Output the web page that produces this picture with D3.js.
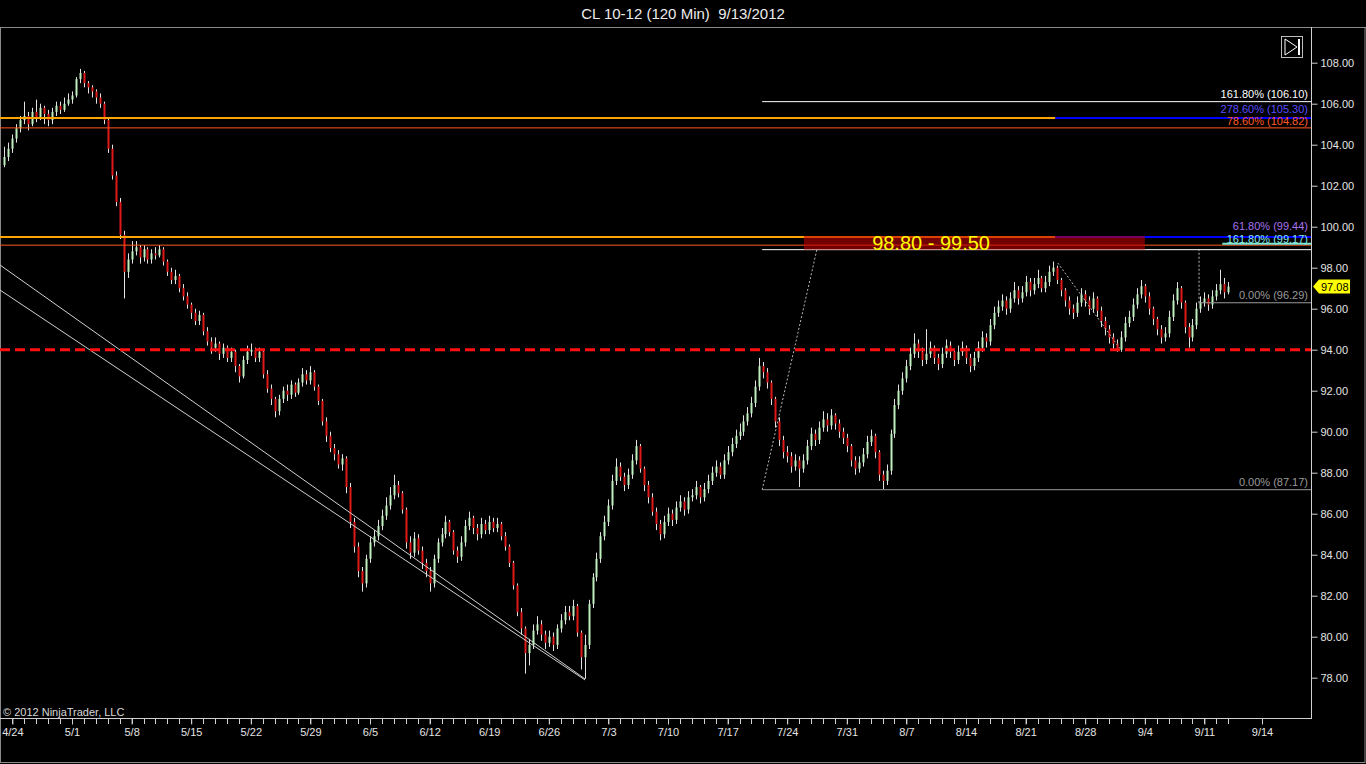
<!DOCTYPE html>
<html><head><meta charset="utf-8">
<script src="https://cdn.jsdelivr.net/npm/d3@7"></script>
<style>html,body{margin:0;padding:0;background:#000;overflow:hidden}text{font-family:"Liberation Sans",Arial,sans-serif}</style>
</head><body>
<svg id="c" width="1366" height="764"></svg>
<script>
// ---------------- DATA ----------------
const title = "CL 10-12 (120 Min)  9/13/2012";
const copyright = "\u00A9 2012 NinjaTrader, LLC";
const firstOpen = 103.0;
// 120-min bars, 3 per trading day, first bar at day -2/3 (day 0 = 4/24)
const closes = [
103.4,103.8,
104.3,104.8,105.2, 105.4,105.0,105.6, 105.3,105.8,105.5, 105.2,105.6,105.9, 105.7,106.0,106.2,
106.4,107.2,107.5, 107.0,106.8,106.6, 106.3,106.0,105.2, 103.8,102.5,101.2, 99.6,97.8,98.4,
98.8,99.0,98.5, 98.9,98.4,98.7, 98.6,98.9,98.3, 97.8,97.4,97.6, 97.0,96.6,96.2,
95.8,95.4,95.7, 94.9,94.4,94.1, 94.3,93.8,94.1, 93.6,93.9,93.2, 92.7,93.5,93.9,
94.0,93.6,93.9, 92.8,92.1,91.6, 91.0,91.6,92.0, 91.8,92.3,91.9, 92.4,92.8,92.5,
92.9,92.2,91.5, 90.5,89.8,89.2, 88.9,88.4,88.7, 87.3,85.6,84.4, 83.2,82.6,83.8,
84.6,84.9,85.4, 85.9,86.4,86.9, 87.4,87.0,86.2, 84.6,84.1,84.8, 84.2,83.6,83.2,
82.6,83.8,84.6, 85.0,85.6,85.1, 84.2,83.9,84.6, 85.4,85.8,85.3, 85.0,85.5,85.2,
85.6,85.3,85.5, 84.9,84.4,83.6, 82.5,81.2,80.4, 79.2,79.6,80.3, 80.6,80.1,79.7,
80.0,79.6,80.4, 80.8,81.2,81.0, 81.5,80.2,79.0, 79.6,81.6,82.9, 83.8,84.9,85.6,
86.4,87.6,88.3, 87.8,87.4,87.9, 88.6,89.3,88.2, 87.4,86.8,86.1, 85.5,85.0,85.6,
86.0,85.7,86.3, 86.6,86.2,86.8, 86.9,87.3,86.8, 87.2,87.6,88.0, 88.3,87.9,88.6,
89.0,89.4,89.8, 90.0,90.5,90.9, 91.4,92.2,93.2, 92.9,92.4,91.6, 90.5,89.6,89.0,
88.8,88.3,88.6, 88.2,88.6,89.3, 89.9,89.6,90.2, 90.6,90.3,90.8, 90.4,90.0,89.7,
89.3,88.6,88.2, 88.5,88.9,89.5, 89.8,89.0,87.9, 87.6,88.1,89.9, 91.3,92.0,92.6,
93.2,93.8,94.3, 93.9,93.5,93.8, 94.1,93.6,93.3, 93.8,94.2,93.9, 93.5,93.9,94.1,
93.6,93.2,93.6, 94.1,94.6,94.4, 95.2,95.8,96.1, 96.4,96.0,96.5, 96.9,96.5,96.8,
97.3,96.9,97.2, 97.5,97.0,97.3, 97.8,98.0,97.4, 96.9,96.4,96.0, 95.8,96.3,96.7,
96.4,96.0,96.5, 95.9,95.4,95.0, 94.6,94.3,94.0, 94.6,95.3,95.6, 96.2,96.7,97.1,
96.6,96.0,95.5, 95.0,94.6,94.8, 95.6,96.4,97.0, 96.3,95.1,94.6, 95.2,96.0,96.3,
96.5,96.2,96.6, 96.9,97.2,96.8, 97.08];
const highs = [
103.9,104.1,
104.5,105.0,105.4, 106.1,105.6,105.8, 106.2,106.0,105.9, 105.7,105.8,106.1, 106.1,106.3,106.5,
106.6,107.3,107.7, 107.6,107.1,106.9, 106.7,106.5,106.1, 105.3,104.0,102.7, 101.4,99.8,98.7,
99.3,99.3,99.1, 99.1,99.0,98.9, 99.0,99.1,99.0, 98.4,98.0,97.9, 97.7,97.2,96.8,
96.3,96.0,95.9, 95.8,95.1,94.6, 94.6,94.4,94.3, 94.2,94.1,94.0, 93.3,93.7,94.2,
94.3,94.1,94.1, 94.0,93.0,92.3, 91.7,91.8,92.2, 92.3,92.5,92.4, 92.6,93.1,93.0,
93.2,93.0,92.3, 91.6,90.7,90.0, 89.4,89.1,88.9, 88.8,87.5,85.8, 84.6,83.4,84.0,
84.9,85.2,85.7, 86.2,86.8,87.3, 87.9,87.6,87.1, 86.3,84.9,85.1, 85.0,84.4,83.8,
83.4,84.0,84.8, 85.3,85.9,85.7, 85.2,84.4,84.9, 85.7,86.1,85.9, 85.5,85.8,85.7,
85.9,85.8,85.8, 85.6,85.1,84.5, 83.7,82.6,81.4, 80.5,79.9,80.6, 81.0,80.8,80.3,
80.3,80.2,80.6, 81.1,81.5,81.5, 81.8,81.6,80.3, 80.1,81.8,83.1, 84.1,85.1,85.9,
86.7,87.9,88.7, 88.5,88.0,88.2, 88.9,89.6,89.4, 88.3,87.6,87.0, 86.3,85.7,85.9,
86.3,86.2,86.6, 86.9,86.8,87.1, 87.2,87.6,87.4, 87.5,87.9,88.3, 88.6,88.5,88.9,
89.3,89.7,90.1, 90.4,90.8,91.2, 91.7,92.5,93.6, 93.4,93.1,92.5, 91.7,90.7,89.8,
89.3,89.0,88.9, 88.8,88.9,89.6, 90.2,90.1,90.5, 91.0,90.9,91.1, 90.9,90.6,90.2,
89.9,89.4,88.8, 88.8,89.2,89.8, 90.1,89.9,89.1, 88.1,88.4,90.1, 91.6,92.3,92.9,
93.5,94.1,94.8, 94.5,94.1,95.0, 94.4,94.2,93.8, 94.1,94.5,94.4, 94.0,94.2,94.4,
94.2,93.8,93.9, 94.4,94.9,94.8, 95.5,96.1,96.4, 96.7,96.6,96.8, 97.3,97.1,97.1,
97.6,97.5,97.5, 97.9,97.6,97.6, 98.1,98.3,98.1, 97.5,97.0,96.6, 96.2,96.6,97.0,
96.9,96.6,96.8, 96.6,96.1,95.6, 95.2,94.8,94.5, 94.9,95.6,95.9, 96.5,97.0,97.4,
97.2,96.8,96.1, 95.6,95.2,95.1, 95.9,96.7,97.3, 97.1,96.4,95.3, 95.5,96.3,96.6,
96.8,96.7,96.9, 97.2,97.9,97.5, 97.3];
const lows = [
102.9,103.2,
103.6,104.1,104.6, 105.0,104.7,104.9, 105.1,105.2,105.0, 104.9,105.0,105.4, 105.5,105.6,105.9,
106.0,106.3,107.0, 106.8,106.5,106.3, 106.0,105.8,105.0, 103.6,102.3,101.0, 99.4,96.5,97.5,
98.2,98.6,98.2, 98.3,98.2,98.2, 98.4,98.5,98.1, 97.6,97.2,97.2, 96.8,96.4,96.0,
95.5,95.2,95.2, 94.7,94.2,93.8, 93.9,93.5,93.6, 93.4,93.4,92.9, 92.4,92.6,93.3,
93.7,93.4,93.4, 92.6,91.9,91.3, 90.7,90.8,91.4, 91.5,91.6,91.7, 91.8,92.2,92.3,
92.3,92.0,91.3, 90.3,89.5,89.0, 88.6,88.2,88.1, 87.0,85.3,84.1, 82.9,82.2,82.4,
83.6,84.4,84.7, 85.2,85.7,86.2, 86.7,86.8,86.0, 84.3,83.8,83.9, 84.0,83.3,82.9,
82.2,82.4,83.6, 84.4,84.8,84.9, 84.0,83.6,83.7, 84.4,85.2,85.0, 84.7,84.8,85.0,
85.0,85.1,85.1, 84.7,84.2,83.4, 82.3,81.0,80.1, 78.2,78.6,79.4, 80.1,79.8,79.4,
79.5,79.3,79.4, 80.2,80.6,80.8, 80.8,80.0,78.4, 77.95,79.4,81.4, 82.7,83.6,84.7,
85.4,86.2,87.4, 87.6,87.1,87.2, 87.7,88.4,88.0, 87.1,86.5,85.9, 85.2,84.7,84.8,
85.4,85.4,85.5, 86.1,85.9,86.0, 86.6,86.7,86.5, 86.6,87.0,87.4, 87.8,87.7,87.7,
88.4,88.8,89.2, 89.6,89.8,90.3, 90.7,91.2,92.0, 92.6,92.1,91.3, 90.2,89.3,88.7,
88.5,88.0,88.1, 87.3,88.0,88.4, 89.1,89.3,89.4, 90.0,90.0,90.1, 90.1,89.7,89.4,
89.0,88.3,87.9, 88.0,88.3,88.7, 89.3,88.7,87.6, 87.2,87.4,87.9, 89.7,91.1,91.8,
92.4,93.0,93.6, 93.6,93.2,93.3, 93.6,93.3,93.0, 93.1,93.6,93.6, 93.2,93.3,93.7,
93.3,92.9,93.0, 93.4,93.9,94.1, 94.2,95.0,95.6, 95.9,95.7,95.8, 96.3,96.2,96.3,
96.6,96.6,96.7, 97.0,96.8,96.8, 97.1,97.6,97.2, 96.6,96.1,95.7, 95.5,95.6,96.1,
96.1,95.7,95.8, 95.6,95.1,94.7, 94.3,94.0,93.9, 93.9,94.4,95.1, 95.4,96.0,96.5,
96.3,95.7,95.2, 94.7,94.3,94.4, 94.6,95.4,96.2, 96.0,94.8,94.1, 94.4,95.0,95.8,
96.1,95.9,96.0, 96.4,96.7,96.5, 96.7];
const lastPrice = 97.08;

// date axis (day index, 0 = 4/24)
const tickLabels = ["4/24","5/1","5/8","5/15","5/22","5/29","6/5","6/12","6/19","6/26","7/3","7/10","7/17","7/24","7/31","8/7","8/14","8/21","8/28","9/4","9/11","9/14"];
const tickDays   = [0,5,10,15,20,25,30,35,40,45,50,55,60,65,70,75,80,85,90,95,100,103];
const minorDays  = d3.range(0,103);
const priceTicks = [78,80,82,84,86,88,90,92,94,96,98,100,102,104,106,108];

// horizontal levels (price, from-day, to-day, kind)
const levelKind  = ["fibThick","fibThick","blue","blue","fibThin","fibThin","white","white","teal","gray","gray","support"];
const levelPrice = [105.30, 99.50, 105.30, 99.50, 104.82, 99.10, 106.10, 98.88, 99.17, 96.29, 87.17, 94.00];
const levelFrom  = [-1.2, -1.2, 87.5, 87.5, -1.2, -1.2, 62.9, 62.9, 101.5, 99.5, 62.9, -1.2];
const levelTo    = [87.5, 87.5, 110, 110, 110, 110, 110, 110, 110, 110, 110, 110];

// fib labels
const fibText  = ["161.80% (106.10)","278.60% (105.30)","78.60% (104.82)","61.80% (99.44)","161.80% (99.17)","0.00% (96.29)","0.00% (87.17)"];
const fibPrice = [106.10, 105.30, 104.82, 99.44, 99.17, 96.29, 87.17];
const fibKind  = ["white","blue","orange","purple","cyan","gray","gray"];

// zone box
const zoneFrom = 66.4, zoneTo = 95.0, zoneTop = 99.50, zoneBottom = 98.88, zoneLabelDay = 77.07;
const zoneText = "98.80 - 99.50";

// trend lines (from-day, from-price, to-day, to-price)
const trendFromDay = [-1.04, -1.04], trendFromPrice = [98.13, 96.91];
const trendToDay   = [48.04, 48.04], trendToPrice   = [77.94, 77.89];
// dashed drawing-tool lines
const dashFromDay = [62.9, 87.7, 99.55], dashFromPrice = [87.17, 98.23, 96.29];
const dashToDay   = [67.5, 92.9, 99.55], dashToPrice   = [98.91, 94.07, 98.88];

// ---------------- STYLE / LAYOUT ----------------
const W = 1366, H = 764, plotTop = 27, plotRight = 1311, axisY = 718;
const levelStyle = {
  fibThick:{c:"#ffa500",w:2}, blue:{c:"#0000ff",w:2}, fibThin:{c:"#ff5a1e",w:1},
  white:{c:"#ffffff",w:1}, teal:{c:"#7fe6d2",w:2}, gray:{c:"#9a9a9a",w:1},
  support:{c:"#ff1010",w:3,dash:"10,5"}
};
const fibColor = {white:"#ffffff",blue:"#5a4cff",orange:"#ff5a28",purple:"#a872ee",cyan:"#8ae8ea",gray:"#9a9a9a"};
const fibDy = [-3.5,-5.5,-2.5,-8,-1,-4,-4];

// ---------------- DRAW ----------------
const svg = d3.select("#c");
const x = d3.scaleLinear().domain([0,102.5,103]).range([12.4,1234.2,1262]);
const y = d3.scaleLinear().domain([78,108]).range([677.7,62.7]);

svg.append("rect").attr("width",W).attr("height",H).attr("fill","#000");
svg.append("defs").append("clipPath").attr("id","pc").append("rect")
  .attr("x",0).attr("y",plotTop).attr("width",plotRight).attr("height",axisY-plotTop);

// title
svg.append("text").attr("x",683).attr("y",19).attr("text-anchor","middle")
  .attr("fill","#ececec").style("font-size","15px").style("white-space","pre").text(title);

// frame
svg.append("line").attr("x1",0).attr("x2",W).attr("y1",plotTop+0.5).attr("y2",plotTop+0.5).attr("stroke","#c8c8c8");
svg.append("rect").attr("x",0.5).attr("y",plotTop+0.5).attr("width",W-1.5).attr("height",H-plotTop-2)
  .attr("fill","none").attr("stroke","#8a8a8a");

const g = svg.append("g").attr("clip-path","url(#pc)");

// candles
const bars = closes.map((c,i)=>({t:(i-2)/3, o:i===0?firstOpen:closes[i-1], c, h:highs[i], l:lows[i]}));
const cg = g.append("g");
cg.selectAll("line.wick").data(bars).join("line").attr("class","wick")
  .attr("x1",d=>Math.round(x(d.t))+0.5).attr("x2",d=>Math.round(x(d.t))+0.5)
  .attr("y1",d=>y(d.h)).attr("y2",d=>y(d.l)).attr("stroke","#e2e2e2").attr("stroke-width",1);
cg.selectAll("rect.body").data(bars).join("rect").attr("class","body")
  .attr("x",d=>Math.round(x(d.t))-0.5).attr("width",2)
  .attr("y",d=>y(Math.max(d.o,d.c)))
  .attr("height",d=>Math.max(1,Math.abs(y(d.o)-y(d.c))))
  .attr("fill",d=>d.c>=d.o?"#bdf0bd":"#e01818");

// trend lines
g.selectAll("line.trend").data(trendFromDay).join("line").attr("class","trend")
  .attr("x1",(d,i)=>x(trendFromDay[i])).attr("y1",(d,i)=>y(trendFromPrice[i]))
  .attr("x2",(d,i)=>x(trendToDay[i])).attr("y2",(d,i)=>y(trendToPrice[i]))
  .attr("stroke","#d0d0d0").attr("stroke-width",1);

// dashed tool lines
g.selectAll("line.dash").data(dashFromDay).join("line").attr("class","dash")
  .attr("x1",(d,i)=>x(dashFromDay[i])).attr("y1",(d,i)=>y(dashFromPrice[i]))
  .attr("x2",(d,i)=>x(dashToDay[i])).attr("y2",(d,i)=>y(dashToPrice[i]))
  .attr("stroke","#b8b8b8").attr("stroke-width",1).attr("stroke-dasharray","2,2");

// levels
g.selectAll("line.level").data(levelPrice).join("line").attr("class","level")
  .attr("x1",(d,i)=>Math.max(0,x(levelFrom[i]))).attr("x2",(d,i)=>Math.min(plotRight,x(levelTo[i])))
  .attr("y1",d=>y(d)).attr("y2",d=>y(d))
  .attr("stroke",(d,i)=>levelStyle[levelKind[i]].c)
  .attr("stroke-width",(d,i)=>levelStyle[levelKind[i]].w)
  .attr("stroke-dasharray",(d,i)=>levelStyle[levelKind[i]].dash||null);

// zone box
g.append("rect").attr("x",x(zoneFrom)).attr("width",x(zoneTo)-x(zoneFrom))
  .attr("y",y(zoneTop)-1).attr("height",y(zoneBottom)-y(zoneTop)+1)
  .attr("fill","#c00000").attr("fill-opacity",0.6);
g.append("text").attr("x",x(zoneLabelDay)).attr("y",y(zoneBottom)).attr("text-anchor","middle")
  .attr("fill","#ffff00").style("font-size","20px").text(zoneText);

// fib labels
g.selectAll("text.fib").data(fibText).join("text").attr("class","fib")
  .attr("x",plotRight-3).attr("y",(d,i)=>y(fibPrice[i])+fibDy[i]).attr("text-anchor","end")
  .attr("fill",(d,i)=>fibColor[fibKind[i]]).style("font-size","11px").text(d=>d);

// right axis
svg.append("line").attr("x1",plotRight+0.5).attr("x2",plotRight+0.5).attr("y1",plotTop).attr("y2",axisY)
  .attr("stroke","#d0d0d0");
const ya = svg.append("g").attr("transform",`translate(${plotRight+0.5},0)`)
  .call(d3.axisRight(y).tickValues(priceTicks).tickFormat(d3.format(".2f")).tickSize(6).tickPadding(3));
ya.select(".domain").remove();
ya.selectAll("line").attr("stroke","#d0d0d0");
ya.selectAll("text").attr("fill","#e4e4e4").style("font-size","11px").style("font-family",'"Liberation Sans",Arial,sans-serif');

// bottom axis
svg.append("line").attr("x1",0).attr("x2",plotRight+1).attr("y1",axisY+0.5).attr("y2",axisY+0.5).attr("stroke","#d0d0d0");
svg.append("g").selectAll("line").data(minorDays).join("line")
  .attr("x1",d=>Math.round(x(d))+0.5).attr("x2",d=>Math.round(x(d))+0.5)
  .attr("y1",axisY).attr("y2",axisY+6).attr("stroke","#d0d0d0");
const xa = svg.append("g").attr("transform",`translate(0,${axisY+0.5})`)
  .call(d3.axisBottom(x).tickValues(tickDays).tickFormat((d,i)=>tickLabels[i]).tickSize(6).tickPadding(4));
xa.select(".domain").remove();
xa.selectAll("line").attr("stroke","#d0d0d0");
xa.selectAll("text").attr("fill","#e4e4e4").style("font-size","11px").style("font-family",'"Liberation Sans",Arial,sans-serif');

// copyright
svg.append("text").attr("x",3).attr("y",716).attr("fill","#d8d8d8").style("font-size","11px").text(copyright);

// last price tag
const ly = y(lastPrice);
svg.append("path").attr("d",`M${plotRight+2},${ly} L${plotRight+8},${ly-7} L${plotRight+39},${ly-7} L${plotRight+39},${ly+7} L${plotRight+8},${ly+7} Z`)
  .attr("fill","#ffff00");
svg.append("text").attr("x",plotRight+10).attr("y",ly+4).attr("fill","#000").style("font-size","11px").text(d3.format(".2f")(lastPrice));

// top-right "jump to end" icon
const ic = svg.append("g").attr("transform","translate(1281,36)");
ic.append("rect").attr("x",0.5).attr("y",0.5).attr("width",21).attr("height",21).attr("fill","none").attr("stroke","#bdbdbd");
ic.append("path").attr("d","M4,3 L4,19 L16,11 Z").attr("fill","none").attr("stroke","#ffffff").attr("stroke-width",1);
ic.append("line").attr("x1",18).attr("x2",18).attr("y1",3).attr("y2",19).attr("stroke","#ffffff").attr("stroke-width",2);
</script>
</body></html>
